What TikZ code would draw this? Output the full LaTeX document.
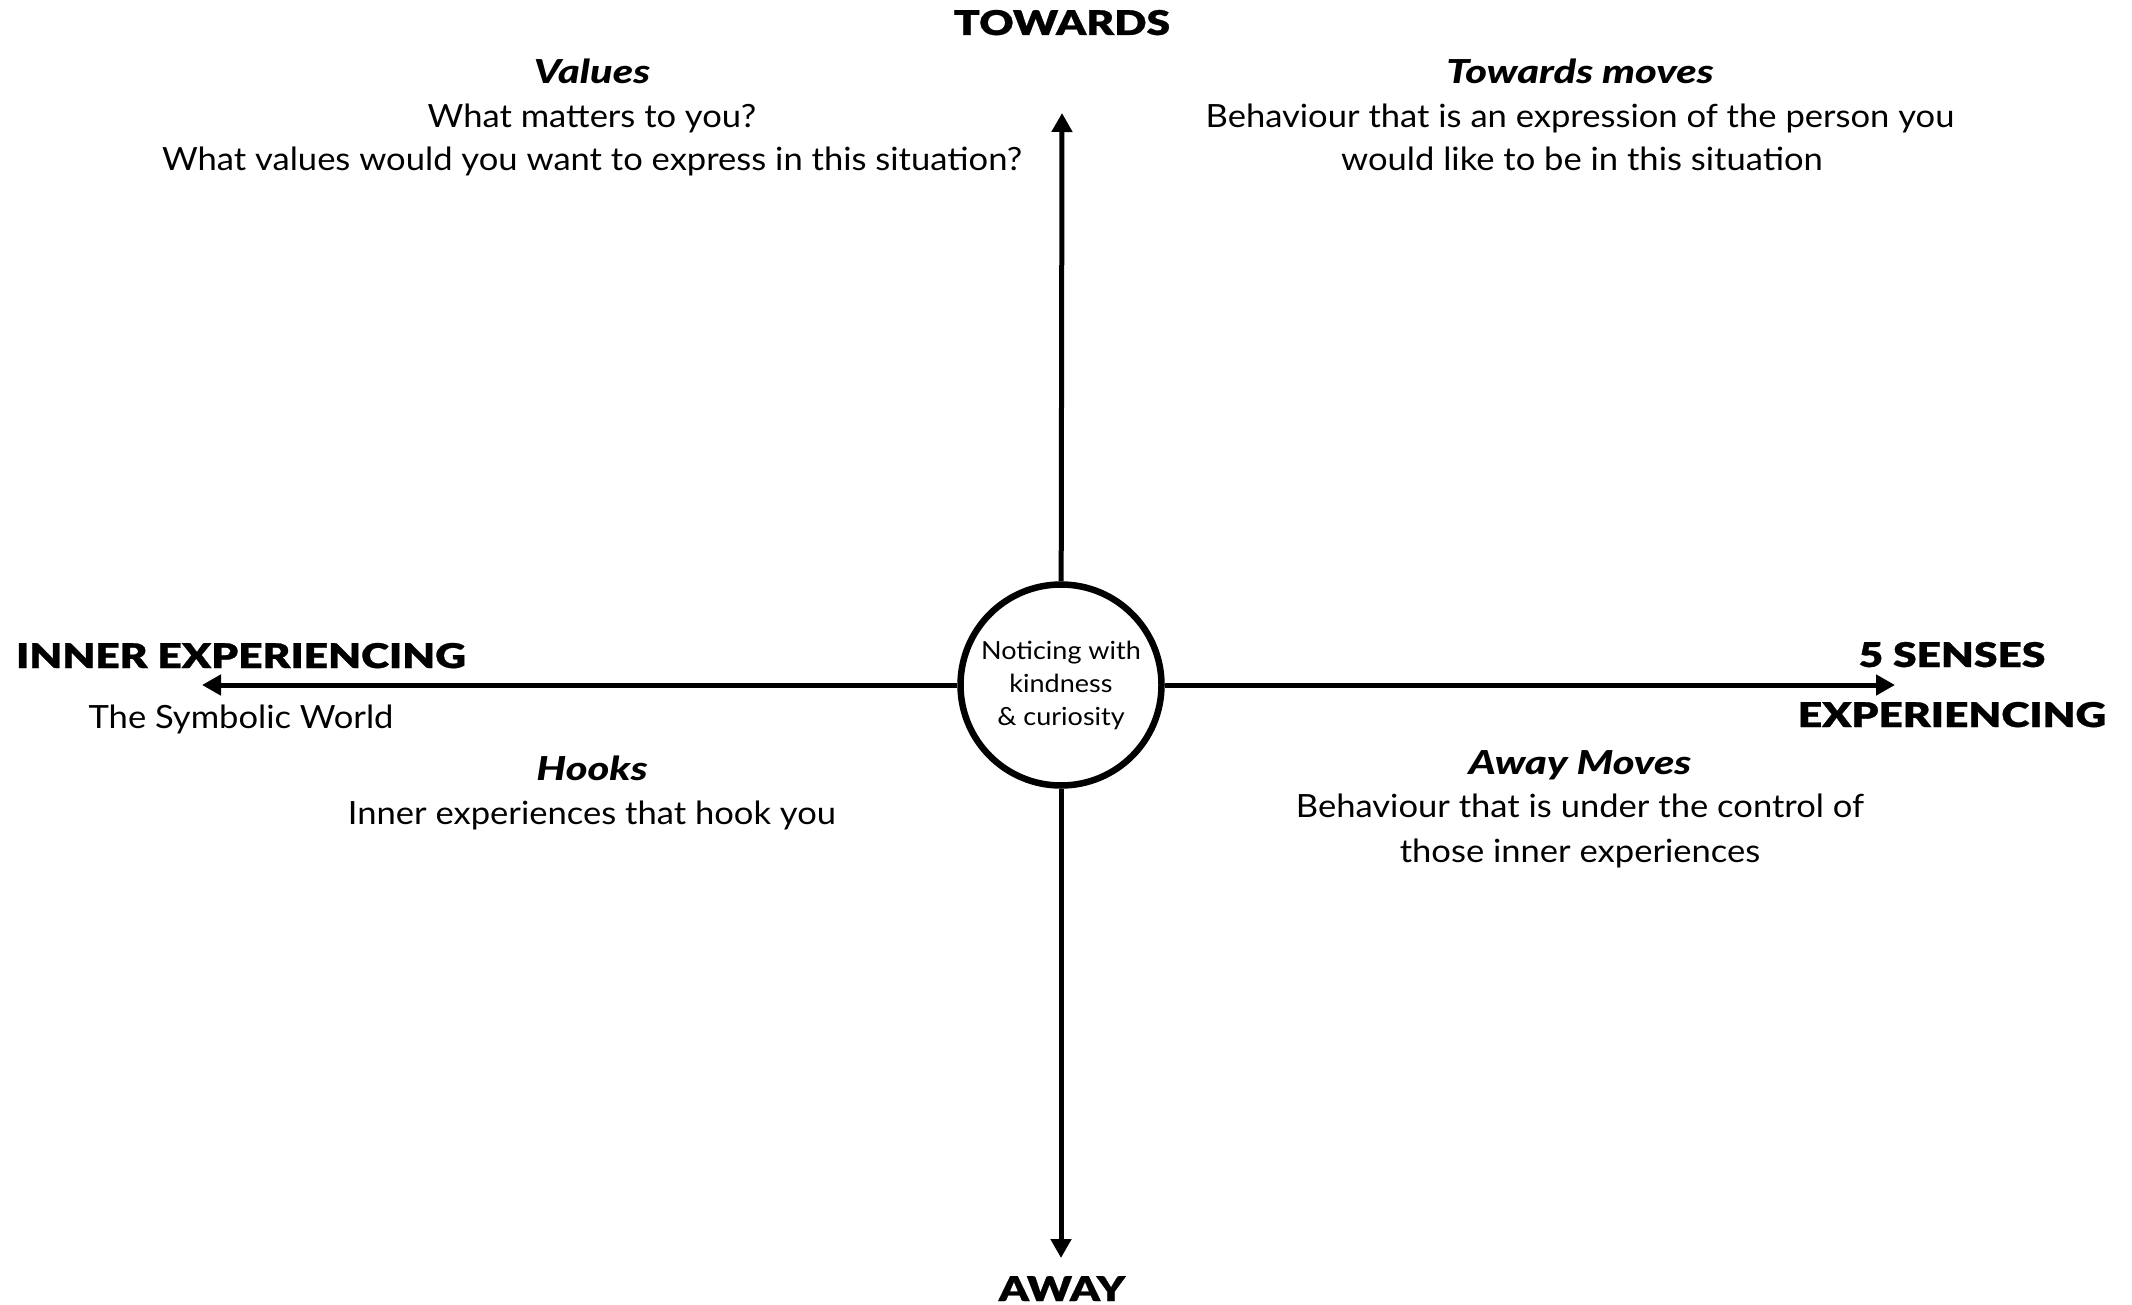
\documentclass[tikz,border=0pt]{standalone}
\usepackage{fontspec}
\setmainfont{Lato}[FakeStretch=1.08]
\newfontfamily\heavyfont{Lato Black}[FakeStretch=1.25,FakeBold=0.8]
\newfontfamily\headfont{Lato Black}[FakeStretch=1.26]
\usetikzlibrary{arrows.meta}
\begin{document}
\begin{tikzpicture}[x=1pt,y=-1pt,
  body/.style={anchor=base,inner sep=0pt,font=\fontsize{32}{38}\selectfont},
  head/.style={anchor=base,inner sep=0pt,font=\fontsize{33}{38}\selectfont\headfont\itshape},
  caps/.style={anchor=base,inner sep=0pt,font=\fontsize{34}{40}\selectfont\heavyfont},
  axis/.style={line width=5pt,-{Triangle[length=19pt,width=20pt]}},
  hub/.style={circle,draw,line width=6.5pt,minimum size=201pt,inner sep=0pt,fill=white,align=center,font=\fontsize{25}{33}\selectfont},
]
\fill[white] (0,0) rectangle (2132,1305);
\useasboundingbox (0,0) rectangle (2132,1305);

\node[hub] (c) at (1061,685) {Noticing with\\kindness\\\& curiosity};

\coordinate (up) at (1062,113);
\coordinate (down) at (1061,1258);
\coordinate (left) at (202,685);
\coordinate (right) at (1895,685);

\draw[axis] (c) -- (up);
\draw[axis] (c) -- (down);
\draw[axis] (c) -- (left);
\draw[axis] (c) -- (right);

\node[caps] (towards) at (1062,35) {TOWARDS};
\node[caps] (away) at (1062,1301) {AWAY};
\node[caps] (inner) at (241,668) {INNER EXPERIENCING};
\node[body] (symb) at (241,728) {The Symbolic World};
\node[caps] (senses) at (1952,667) {5 SENSES};
\node[caps] (exper) at (1952,727) {EXPERIENCING};

\node[head] (values) at (592,84) {Values};
\node[body] (v1) at (592,128) {What matters to you?};
\node[body] (v2) at (592,171) {What values would you want to express in this situation?};

\node[head] (tmoves) at (1580,84) {Towards moves};
\node[body] (t1) at (1580,128) {Behaviour that is an expression of the person you};
\node[body] (t2) at (1582,171) {would like to be in this situation};

\node[head] (hooks) at (592,780) {Hooks};
\node[body] (h1) at (592,824) {Inner experiences that hook you};

\node[head] (amoves) at (1580,774) {Away Moves};
\node[body] (a1) at (1580,817) {Behaviour that is under the control of};
\node[body] (a2) at (1580,862) {those inner experiences};
\end{tikzpicture}
\end{document}
